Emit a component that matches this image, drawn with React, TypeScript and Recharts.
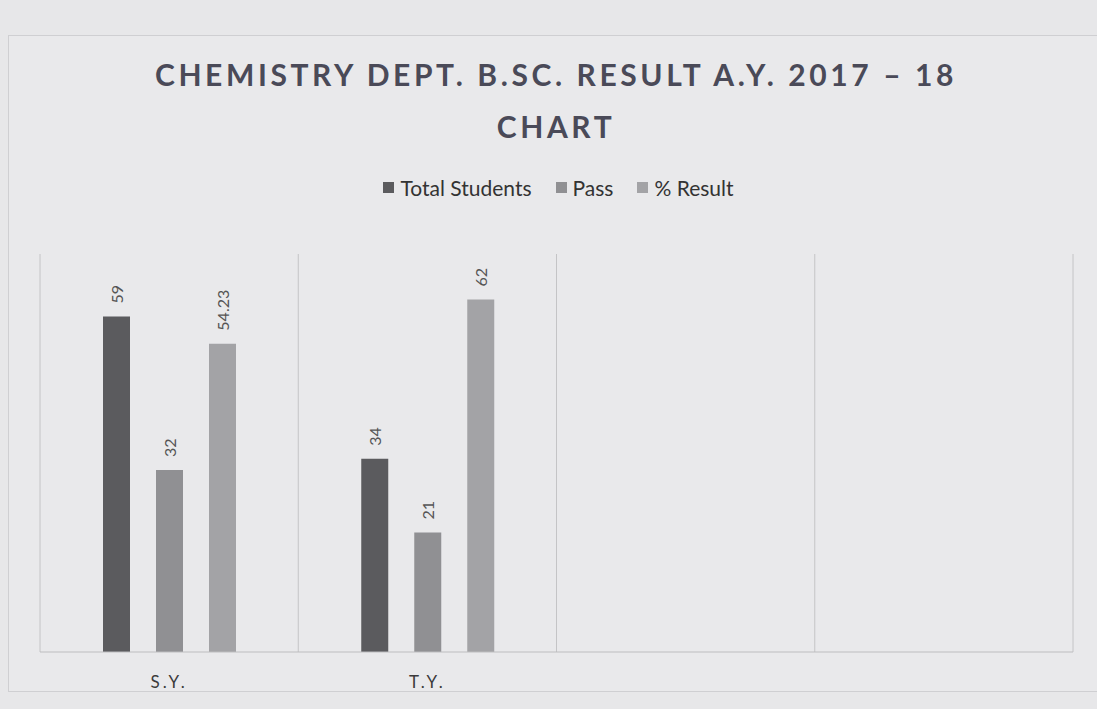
import { BarChart, Bar, XAxis, YAxis, CartesianGrid, Legend, LabelList } from "recharts";

const years = ["S.Y.", "T.Y.", "", " "];
const totalStudents = [59, 34, null, null];
const passed = [32, 21, null, null];
const resultPct = [54.23, 62, null, null];

const series = [
  { key: "total", name: "Total Students", color: "#5b5b5e" },
  { key: "pass", name: "Pass", color: "#909093" },
  { key: "result", name: "% Result", color: "#a3a3a6" },
];

const data = years.map((y, i) => ({
  year: y,
  total: totalStudents[i],
  pass: passed[i],
  result: resultPct[i],
}));

const FONT = "Lato, 'Open Sans', sans-serif";

// rotated value label sitting just above the bar
const VLabel = (props: any) => {
  const { x, y, width, value } = props;
  if (value == null) return null;
  const cx = x + width / 2;
  const cy = y - 13;
  return (
    <text
      x={cx}
      y={cy}
      transform={`rotate(-90 ${cx} ${cy})`}
      textAnchor="start"
      dominantBaseline="central"
      fill="#555"
      fontSize={16}
      fontFamily={FONT}
    >
      {value}
    </text>
  );
};

const XTick = (props: any) => {
  const { x, y, payload } = props;
  return (
    <text x={x} y={y + 28} textAnchor="middle" fill="#3a3a3a" fontSize={17} fontFamily={FONT} letterSpacing={3}>
      {payload.value.trim()}
    </text>
  );
};

const LegendBox = () => (
  <div style={{ display: "flex", justifyContent: "center", gap: 24, fontFamily: FONT, fontSize: 21, color: "#333" }}>
    {series.map((s) => (
      <span key={s.key} style={{ display: "inline-flex", alignItems: "center", gap: 6 }}>
        <span style={{ width: 11, height: 11, background: s.color, display: "inline-block" }} />
        {s.name}
      </span>
    ))}
  </div>
);

export default function App() {
  return (
    <div style={{ position: "absolute", left: 0, top: 0, width: 1097, height: 709, background: "#e7e7e9", overflow: "hidden" }}>
      <div
        style={{
          position: "absolute",
          left: 8,
          top: 35,
          width: 1095,
          height: 655,
          border: "1px solid #cfcfd2",
          background: "#e9e9eb",
        }}
      />
      <div
        style={{
          position: "absolute",
          left: 0,
          top: 48,
          width: 1112,
          textAlign: "center",
          fontFamily: FONT,
          fontWeight: 700,
          fontSize: 30,
          letterSpacing: 3.6,
          lineHeight: "52px",
          color: "#4a4a58",
        }}
      >
        CHEMISTRY DEPT. B.SC. RESULT A.Y. 2017 – 18
        <br />
        CHART
      </div>
      <div style={{ position: "absolute", left: 0, top: 0 }}>
        <BarChart
          width={1097}
          height={709}
          data={data}
          margin={{ top: 254, right: 24, left: 40, bottom: 27 }}
          barGap={26}
          barCategoryGap={62}
        >
          <CartesianGrid
            horizontal={false}
            stroke="#c4c4c6"
            verticalCoordinatesGenerator={({ offset }: any) =>
              [0, 1, 2, 3, 4].map((i) => offset.left + (offset.width * i) / 4)
            }
          />
          <XAxis dataKey="year" axisLine={{ stroke: "#bdbdbf" }} tickLine={false} tick={<XTick />} interval={0} />
          <YAxis hide domain={[0, 70]} />
          <Legend
            verticalAlign="top"
            content={<LegendBox />}
            wrapperStyle={{ position: "absolute", top: 175, left: 10, width: 1097, height: 0 }}
          />
          {series.map((s) => (
            <Bar key={s.key} dataKey={s.key} name={s.name} fill={s.color} barSize={27} isAnimationActive={false}>
              <LabelList dataKey={s.key} content={<VLabel />} />
            </Bar>
          ))}
        </BarChart>
      </div>
    </div>
  );
}
